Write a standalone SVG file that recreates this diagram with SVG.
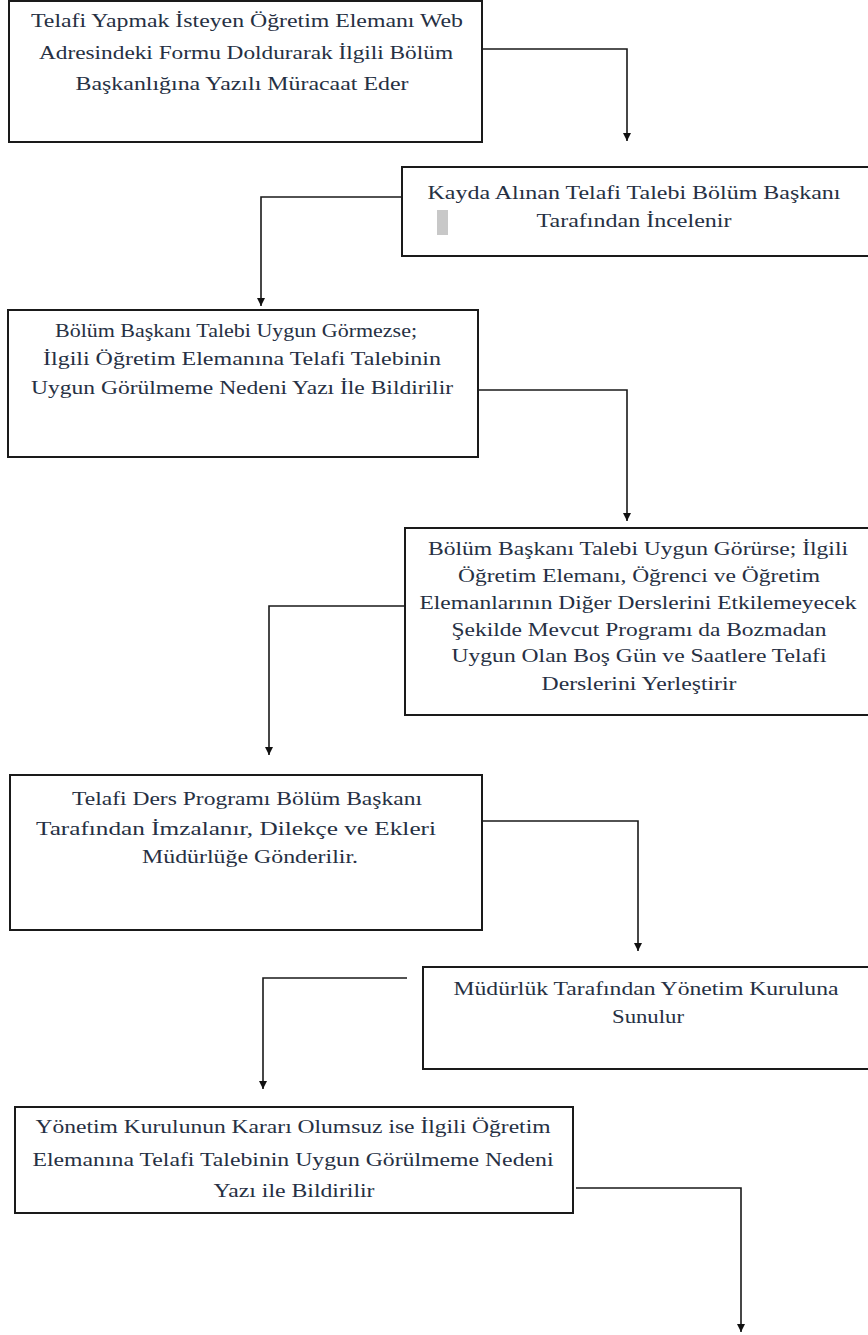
<svg xmlns="http://www.w3.org/2000/svg" width="868" height="1335" viewBox="0 0 868 1335">
<defs>
<marker id="ah" viewBox="0 0 10 10" refX="10" refY="5" markerWidth="8" markerHeight="8" markerUnits="userSpaceOnUse" orient="auto">
<path d="M0,0 L10,5 L0,10 z" fill="#111"/>
</marker>
<style>
.box{fill:#fff;stroke:#1a1a1a;stroke-width:2}
.t{font-family:"Liberation Serif","DejaVu Serif",serif;font-size:19px;fill:#263043;text-anchor:middle}
.c{fill:none;stroke:#1a1a1a;stroke-width:1.6;marker-end:url(#ah)}
</style>
</defs>
<rect width="868" height="1335" fill="#fff"/>
<g id="connectors">
<path class="c" d="M482,49 H627 V141"/>
<path class="c" d="M402,197 H261 V306"/>
<path class="c" d="M478,390 H627 V521"/>
<path class="c" d="M405,606 H269 V755"/>
<path class="c" d="M482,821 H638 V951"/>
<path class="c" d="M407,978 H263 V1089"/>
<path class="c" d="M576,1188 H741 V1332"/>
</g>
<g id="n1">
<rect class="box" x="9" y="1" width="473" height="141"/>
<text class="t" x="247" y="27" textLength="432" lengthAdjust="spacingAndGlyphs">Telafi Yapmak İsteyen Öğretim Elemanı Web</text>
<text class="t" x="246" y="59" textLength="414" lengthAdjust="spacingAndGlyphs">Adresindeki Formu Doldurarak İlgili Bölüm</text>
<text class="t" x="242" y="90" textLength="333" lengthAdjust="spacingAndGlyphs">Başkanlığına Yazılı Müracaat Eder</text>
</g>
<g id="n2">
<rect class="box" x="402" y="167" width="470" height="89"/>
<text class="t" x="634" y="199" textLength="413" lengthAdjust="spacingAndGlyphs">Kayda Alınan Telafi Talebi Bölüm Başkanı</text>
<text class="t" x="634" y="227" textLength="195" lengthAdjust="spacingAndGlyphs">Tarafından İncelenir</text>
<rect x="437" y="210" width="11" height="25" fill="#c8c8c8"/>
</g>
<g id="n3">
<rect class="box" x="8" y="310" width="470" height="147"/>
<text class="t" x="236" y="337" textLength="362" lengthAdjust="spacingAndGlyphs">Bölüm Başkanı Talebi Uygun Görmezse;</text>
<text class="t" x="242" y="365" textLength="398" lengthAdjust="spacingAndGlyphs">İlgili Öğretim Elemanına Telafi Talebinin</text>
<text class="t" x="242" y="394" textLength="422" lengthAdjust="spacingAndGlyphs">Uygun Görülmeme Nedeni Yazı İle Bildirilir</text>
</g>
<g id="n4">
<rect class="box" x="405" y="528" width="467" height="187"/>
<text class="t" x="638" y="555" textLength="420" lengthAdjust="spacingAndGlyphs">Bölüm Başkanı Talebi Uygun Görürse; İlgili</text>
<text class="t" x="639" y="582" textLength="362" lengthAdjust="spacingAndGlyphs">Öğretim Elemanı, Öğrenci ve Öğretim</text>
<text class="t" x="638" y="609" textLength="437" lengthAdjust="spacingAndGlyphs">Elemanlarının Diğer Derslerini Etkilemeyecek</text>
<text class="t" x="639" y="636" textLength="375" lengthAdjust="spacingAndGlyphs">Şekilde Mevcut Programı da Bozmadan</text>
<text class="t" x="639" y="662" textLength="375" lengthAdjust="spacingAndGlyphs">Uygun Olan Boş Gün ve Saatlere Telafi</text>
<text class="t" x="639" y="690" textLength="195" lengthAdjust="spacingAndGlyphs">Derslerini Yerleştirir</text>
</g>
<g id="n5">
<rect class="box" x="10" y="775" width="472" height="155"/>
<text class="t" x="247" y="805" textLength="350" lengthAdjust="spacingAndGlyphs">Telafi Ders Programı Bölüm Başkanı</text>
<text class="t" x="236" y="835" textLength="400" lengthAdjust="spacingAndGlyphs">Tarafından İmzalanır, Dilekçe ve Ekleri</text>
<text class="t" x="250" y="863" textLength="216" lengthAdjust="spacingAndGlyphs">Müdürlüğe Gönderilir.</text>
</g>
<g id="n6">
<rect class="box" x="423" y="967" width="450" height="102"/>
<text class="t" x="646" y="995" textLength="385" lengthAdjust="spacingAndGlyphs">Müdürlük Tarafından Yönetim Kuruluna</text>
<text class="t" x="648" y="1023" textLength="72" lengthAdjust="spacingAndGlyphs">Sunulur</text>
</g>
<g id="n7">
<rect class="box" x="15" y="1107" width="558" height="106"/>
<text class="t" x="293" y="1133" textLength="515" lengthAdjust="spacingAndGlyphs">Yönetim Kurulunun Kararı Olumsuz ise İlgili Öğretim</text>
<text class="t" x="293" y="1166" textLength="521" lengthAdjust="spacingAndGlyphs">Elemanına Telafi Talebinin Uygun Görülmeme Nedeni</text>
<text class="t" x="294" y="1197" textLength="161" lengthAdjust="spacingAndGlyphs">Yazı ile Bildirilir</text>
</g>
</svg>
